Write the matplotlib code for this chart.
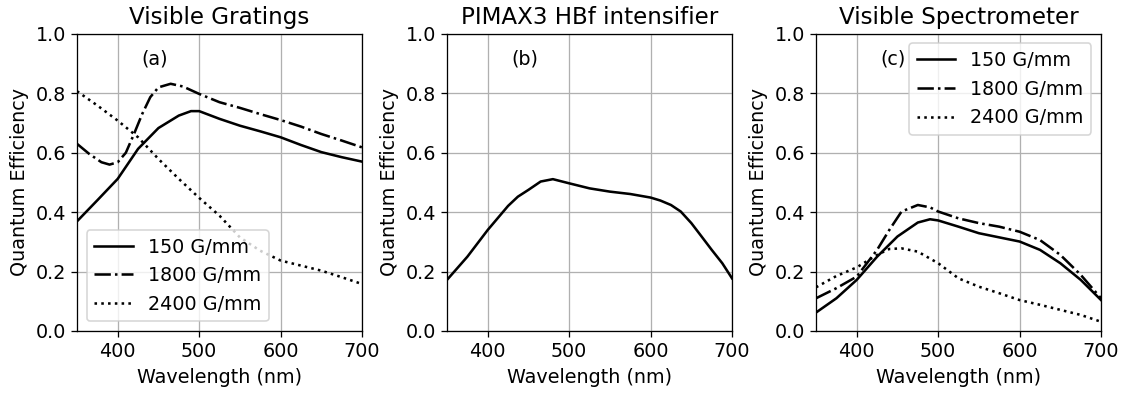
import numpy as np
import matplotlib
matplotlib.use("Agg")
import matplotlib.pyplot as plt

# (a) visible gratings
wl_a150 = [350, 375, 400, 425, 450, 475, 490, 500, 525, 550, 575, 600, 625, 650, 675, 700]
qe_a150 = [0.369, 0.44, 0.512, 0.613, 0.683, 0.725, 0.740, 0.740, 0.714, 0.691, 0.672, 0.652, 0.626, 0.602, 0.585, 0.570]
wl_a1800 = [350, 365, 380, 390, 400, 410, 420, 430, 440, 450, 465, 480, 500, 525, 550, 575, 600, 625, 650, 675, 700]
qe_a1800 = [0.630, 0.596, 0.568, 0.560, 0.568, 0.600, 0.663, 0.730, 0.787, 0.820, 0.832, 0.823, 0.798, 0.770, 0.751, 0.730, 0.710, 0.688, 0.663, 0.641, 0.618]
wl_a2400 = [350, 375, 400, 425, 450, 475, 500, 525, 550, 575, 600, 625, 650, 675, 700]
qe_a2400 = [0.807, 0.759, 0.708, 0.652, 0.579, 0.512, 0.448, 0.388, 0.315, 0.270, 0.237, 0.220, 0.203, 0.181, 0.158]

# (b) intensifier
wl_b = [350, 375, 400, 425, 437, 450, 465, 480, 500, 525, 550, 575, 600, 612, 625, 637, 650, 662, 675, 688, 700]
qe_b = [0.172, 0.250, 0.340, 0.421, 0.452, 0.475, 0.503, 0.511, 0.497, 0.480, 0.469, 0.461, 0.449, 0.439, 0.424, 0.402, 0.363, 0.320, 0.273, 0.228, 0.177]

# (c) spectrometer
wl_c150 = [350, 375, 400, 425, 450, 475, 490, 500, 525, 550, 575, 600, 625, 650, 675, 700]
qe_c150 = [0.062, 0.110, 0.172, 0.250, 0.318, 0.365, 0.376, 0.372, 0.351, 0.329, 0.315, 0.301, 0.273, 0.228, 0.172, 0.104]
wl_c1800 = [350, 375, 400, 425, 440, 455, 475, 490, 500, 525, 550, 575, 600, 625, 650, 675, 700]
qe_c1800 = [0.110, 0.144, 0.183, 0.273, 0.340, 0.402, 0.424, 0.416, 0.402, 0.379, 0.363, 0.351, 0.334, 0.306, 0.256, 0.189, 0.110]
wl_c2400 = [350, 375, 400, 425, 440, 455, 475, 500, 525, 550, 575, 600, 625, 650, 675, 700]
qe_c2400 = [0.147, 0.185, 0.214, 0.256, 0.276, 0.278, 0.267, 0.228, 0.177, 0.149, 0.127, 0.104, 0.088, 0.071, 0.054, 0.031]

labels = ["150 G/mm", "1800 G/mm", "2400 G/mm"]
styles = ["-", "-.", ":"]
titles = ["Visible Gratings", "PIMAX3 HBf intensifier", "Visible Spectrometer"]
tags = ["(a)", "(b)", "(c)"]

plt.rcParams["font.size"] = 12

fig = plt.figure(figsize=(1124 / 115, 394 / 115), dpi=115)
lefts = [0.0685, 0.3977, 0.726]
axes = [fig.add_axes([l, 0.16, 0.2536, 0.754]) for l in lefts]

series_a = [(wl_a150, qe_a150), (wl_a1800, qe_a1800), (wl_a2400, qe_a2400)]
for s, (x, y), lab in zip(styles, series_a, labels):
    axes[0].plot(x, y, s, color="k", lw=1.6, label=lab)
axes[0].legend(loc="lower left")

axes[1].plot(wl_b, qe_b, "-", color="k", lw=1.6)

series_c = [(wl_c150, qe_c150), (wl_c1800, qe_c1800), (wl_c2400, qe_c2400)]
for s, (x, y), lab in zip(styles, series_c, labels):
    axes[2].plot(x, y, s, color="k", lw=1.6, label=lab)
axes[2].legend(loc="upper right")

for ax, t, tag in zip(axes, titles, tags):
    ax.set_xlim(350, 700)
    ax.set_ylim(0, 1)
    ax.set_xticks([400, 500, 600, 700])
    ax.set_yticks([0, 0.2, 0.4, 0.6, 0.8, 1.0])
    ax.grid(True, color="#b0b0b0")
    ax.set_axisbelow(True)
    ax.set_title(t)
    ax.set_xlabel("Wavelength (nm)")
    ax.set_ylabel("Quantum Efficiency")
    ax.text(445, 0.916, tag, ha="center", va="center")

fig.savefig("out.png", dpi=115)
